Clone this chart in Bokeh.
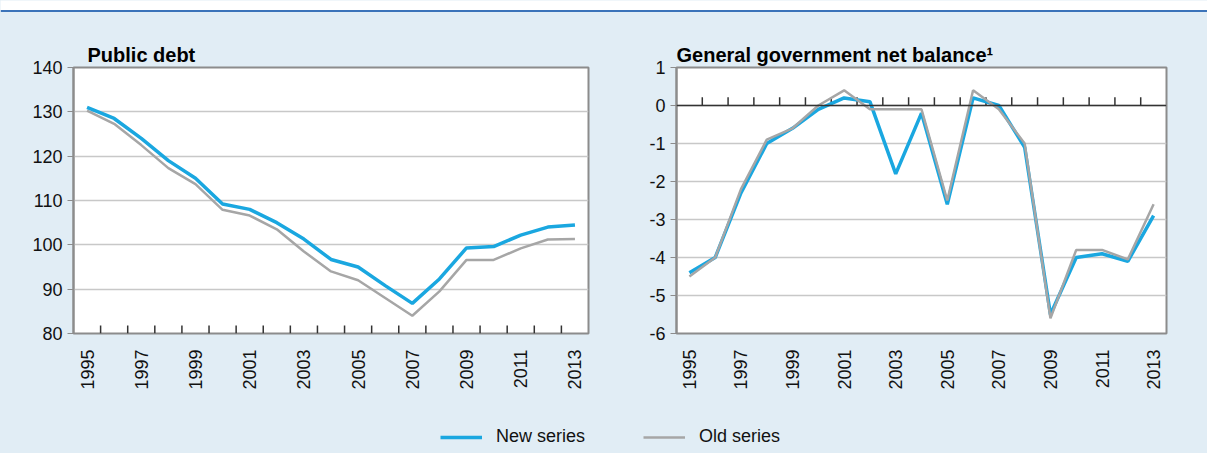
from bokeh.plotting import figure
from bokeh.layouts import row, column
from bokeh.models import FixedTicker, Span, Legend, LegendItem, Range1d
from bokeh.embed import file_html
from bokeh.resources import INLINE
import math

years = list(range(1995, 2014))
debt_new = [131, 128.5, 124, 119, 115, 109.2, 108, 105, 101.3, 96.7, 95, 90.8, 86.8, 92.3, 99.3, 99.6, 102.2, 104, 104.5]
debt_old = [130.3, 127.3, 122.5, 117.3, 113.7, 107.9, 106.6, 103.5, 98.5, 94, 92, 88, 84, 89.5, 96.6, 96.6, 99.2, 101.2, 101.3]
bal_new = [-4.4, -4, -2.3, -1, -0.6, -0.1, 0.2, 0.1, -1.8, -0.2, -2.6, 0.2, 0, -1.1, -5.5, -4, -3.9, -4.1, -2.9]
bal_old = [-4.5, -4, -2.2, -0.9, -0.6, 0, 0.4, -0.1, -0.1, -0.1, -2.5, 0.4, -0.1, -1, -5.6, -3.8, -3.8, -4.05, -2.6]
odd_years = [y for y in years if y % 2 == 1]
half_years = [y + 0.5 for y in years[:-1]]

NEW = "#1aa7e0"
OLD = "#a6a6a6"
BG = "#e1edf5"
FONT = "Liberation Sans"


def make_fig(title, ymin, ymax, yticks, width, bl, br, offset):
    p = figure(width=width, height=393, output_backend="svg", toolbar_location=None,
               x_range=Range1d(1994.5, 2013.5), y_range=Range1d(ymin, ymax),
               min_border_left=bl, min_border_right=br, min_border_top=55, min_border_bottom=72,
               title=title)
    p.border_fill_color = BG
    p.background_fill_color = "white"
    p.outline_line_color = "#8c8c8c"
    p.outline_line_width = 2
    p.title.text_font = FONT
    p.title.text_font_size = "20px"
    p.title.text_font_style = "bold"
    p.title.text_color = "black"
    p.title.offset = offset
    p.title.standoff = 4
    p.xgrid.grid_line_color = None
    p.ygrid.grid_line_color = "#c8c8c8"
    p.ygrid.grid_line_width = 1.5
    p.yaxis.ticker = FixedTicker(ticks=yticks)
    p.yaxis.major_label_overrides = {t: str(t) for t in yticks}
    p.xaxis.ticker = FixedTicker(ticks=odd_years)
    p.xaxis.major_label_orientation = math.pi / 2
    p.xaxis.major_tick_line_color = None
    p.xaxis.minor_tick_line_color = None
    p.xaxis.axis_line_color = None
    p.xaxis.major_label_standoff = 10
    p.yaxis.axis_line_color = "#8c8c8c"
    p.yaxis.axis_line_width = 2
    p.yaxis.major_tick_line_color = "#8c8c8c"
    p.yaxis.major_tick_out = 6
    p.yaxis.major_tick_in = 0
    p.yaxis.minor_tick_line_color = None
    for ax in (p.xaxis, p.yaxis):
        ax.major_label_text_font = FONT
        ax.major_label_text_font_size = "18px"
        ax.major_label_text_color = "#111111"
    return p


top = figure(width=1207, height=12, output_backend="svg", toolbar_location=None,
             x_range=Range1d(0, 1), y_range=Range1d(0, 1), min_border=0)
top.axis.visible = False
top.grid.grid_line_color = None
top.outline_line_color = None
top.background_fill_color = "white"
top.border_fill_color = "white"
top.add_layout(Span(location=0.12, dimension="width", line_color="#3b73b9", line_width=2))

p1 = make_fig("Public debt", 80, 140, list(range(80, 141, 10)), 604, 73, 16, 14)
p1.segment(x0=half_years, x1=half_years, y0=[80] * 18, y1=[81.8] * 18,
           line_color="#333333", line_width=1.5)
p1.line(years, debt_old, line_color=OLD, line_width=2.5)
p1.line(years, debt_new, line_color=NEW, line_width=3.5)

p2 = make_fig("General government net balance¹", -6, 1, list(range(-6, 2)), 603, 72, 41, 0)
p2.add_layout(Span(location=0, dimension="width", line_color="#333333", line_width=1.5))
p2.segment(x0=half_years, x1=half_years, y0=[0] * 18, y1=[0.22] * 18,
           line_color="#333333", line_width=1.5)
p2.line(years, bal_new, line_color=NEW, line_width=3.5)
p2.line(years, bal_old, line_color=OLD, line_width=2.5)

# legend strip (lines sit outside the visible range, only legend glyphs show)
leg = figure(width=1207, height=48, output_backend="svg", toolbar_location=None,
             x_range=Range1d(0, 1), y_range=Range1d(0, 1), min_border=0)
leg.axis.visible = False
leg.grid.grid_line_color = None
leg.outline_line_color = None
leg.background_fill_color = BG
leg.border_fill_color = BG
r_new = leg.line([-3, -2], [0.5, 0.5], line_color=NEW, line_width=3.5)
r_old = leg.line([-3, -2], [0.5, 0.5], line_color=OLD, line_width=2.5)
for r, name, loc in ((r_new, "New series", (440, 6)), (r_old, "Old series", (643, 6))):
    lg = Legend(items=[LegendItem(label=name, renderers=[r])], location=loc,
                background_fill_alpha=0, border_line_color=None, glyph_width=42,
                label_standoff=14, label_text_font=FONT, label_text_font_size="18px",
                label_text_color="#111111")
    leg.add_layout(lg)

layout = column(top, row(p1, p2, spacing=0, styles={"background-color": BG}), leg,
                spacing=0, styles={"background-color": BG})
open("out.html", "w").write(file_html(layout, INLINE))
